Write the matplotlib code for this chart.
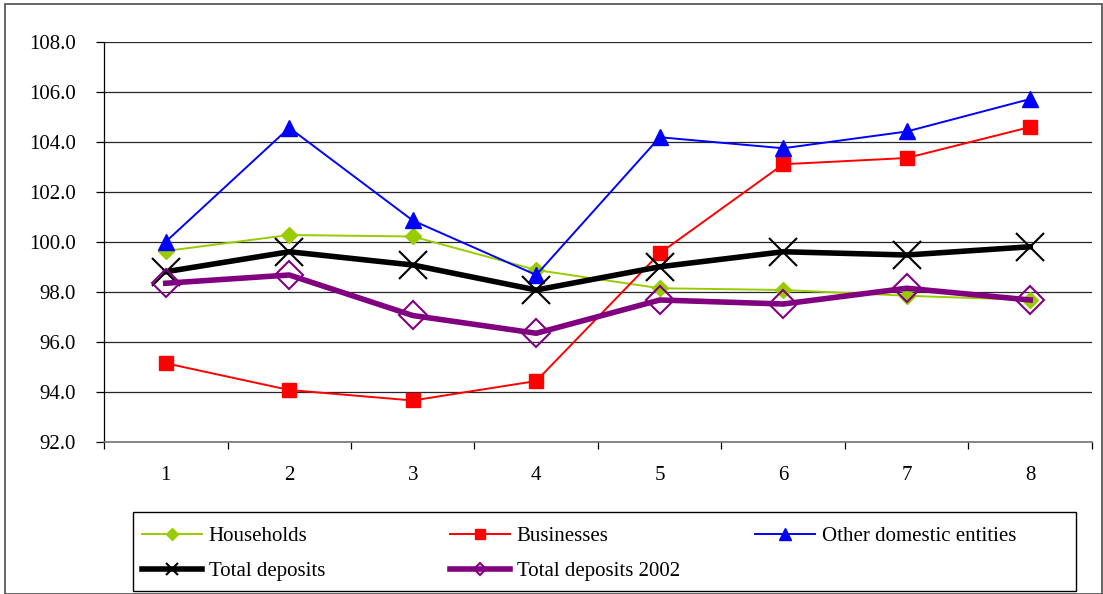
import numpy as np
import matplotlib.pyplot as plt
from matplotlib.patches import Rectangle

plt.rcParams['font.family'] = ['Liberation Serif', 'DejaVu Serif']
plt.rcParams['font.size'] = 15

periods = [1, 2, 3, 4, 5, 6, 7, 8]
households = [99.64, 100.28, 100.22, 98.88, 98.15, 98.08, 97.85, 97.68]
businesses = [95.15, 94.08, 93.66, 94.44, 99.55, 103.11, 103.36, 104.6]
other_domestic = [100.01, 104.57, 100.86, 98.68, 104.19, 103.75, 104.42, 105.72]
total_deposits = [98.81, 99.61, 99.08, 98.08, 99.01, 99.61, 99.48, 99.81]
total_deposits_2002 = [98.35, 98.68, 97.06, 96.35, 97.68, 97.52, 98.15, 97.68]

fig = plt.figure(figsize=(11.03, 5.94), dpi=100)
ax = fig.add_axes([0.0943, 0.2559, 0.8957, 0.6734])

x = np.array(periods)
h1, = ax.plot(x, households, color='#99CC00', lw=1.4, marker='D', ms=8,
              mfc='#99CC00', mec='#99CC00', label='Households', zorder=3)
h2, = ax.plot(x, businesses, color='#FF0000', lw=1.4, marker='s', ms=10,
              mfc='#FF0000', mec='#FF0000', label='Businesses', zorder=3)
h3, = ax.plot(x, other_domestic, color='#0000FF', lw=1.4, marker='^', ms=11,
              mfc='#0000FF', mec='#0000FF', label='Other domestic entities', zorder=3)
h4, = ax.plot(x, total_deposits, color='black', lw=4, marker='x', ms=20,
              mew=1.5, mec='black', label='Total deposits', zorder=4)
h5, = ax.plot(x, total_deposits_2002, color='#800080', lw=4, marker='D', ms=14,
              mfc='none', mec='#800080', mew=1.5, label='Total deposits 2002', zorder=5)

ax.set_xlim(0.5, 8.5)
ax.set_ylim(92, 108)
ax.set_yticks(np.arange(92, 108.1, 2))
ax.yaxis.set_major_formatter(plt.FormatStrFormatter('%.1f'))
ax.grid(axis='y', color='0.15', lw=0.9)
ax.set_axisbelow(True)

# category labels in the middle, tick marks on the boundaries
ax.set_xticks(x)
ax.set_xticklabels([str(p) for p in periods])
ax.set_xticks(np.arange(0.5, 8.6, 1), minor=True)
ax.tick_params(axis='x', which='major', length=0, pad=17)
ax.tick_params(axis='x', which='minor', length=5, width=0.9, color='black')
ax.tick_params(axis='y', length=6, width=0.9, pad=14)

for side in ['top', 'right']:
    ax.spines[side].set_visible(False)
ax.spines['left'].set_linewidth(0.9)
ax.spines['bottom'].set_color('0.45')
ax.spines['bottom'].set_linewidth(1.2)

# legend laid out as a grid: one legend per column
columns = [([h1, h4], 0.1287), ([h2, h5], 0.408), ([h3], 0.6845)]
legend_marker_sizes = {h1: 6, h2: 7, h3: 8, h4: 9, h5: 6}
for handles, x0 in columns:
    leg = fig.legend(handles, [h.get_label() for h in handles],
                     loc='upper left', bbox_to_anchor=(x0, 0.114),
                     frameon=False, borderpad=0, borderaxespad=0,
                     handlelength=2.9, handletextpad=0.3,
                     labelspacing=0.75, fontsize=15)
    for src, lh in zip(handles, leg.legend_handles):
        lh.set_markersize(legend_marker_sizes[src])

# legend box
fig.patches.append(Rectangle((0.1206, 0.005), 0.855, 0.133, transform=fig.transFigure,
                             fill=False, edgecolor='black', lw=1.0))
# frame around the whole chart
fig.patches.append(Rectangle((0.0045, 0.0), 0.9945, 0.9935, transform=fig.transFigure,
                             fill=False, edgecolor='0.3', lw=1.2))

fig.savefig('out.png', dpi=100)
